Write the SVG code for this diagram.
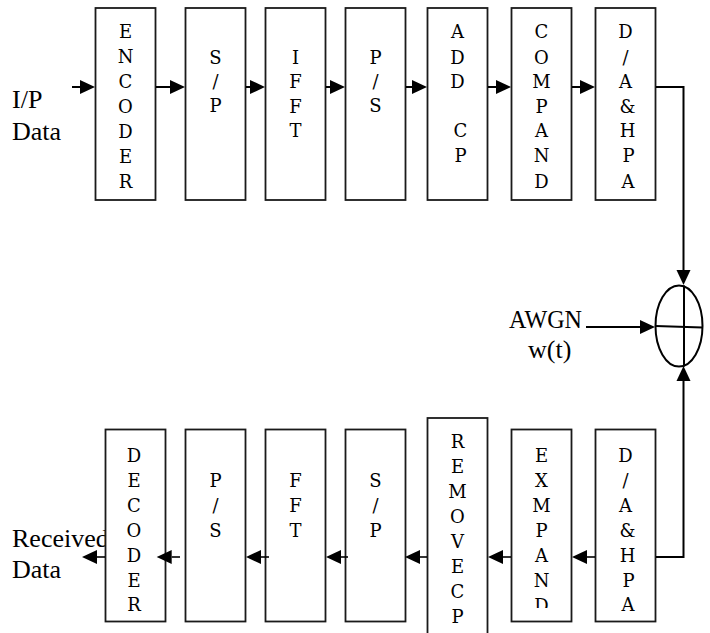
<svg xmlns="http://www.w3.org/2000/svg" width="710" height="633" viewBox="0 0 710 633">
<style>
.box{fill:#fff;stroke:#1a1a1a;stroke-width:1.8}
.t{font-family:"DejaVu Serif","Liberation Serif",serif;font-size:18px;fill:#000;text-anchor:middle}
.lbl{font-family:"Liberation Serif","Times New Roman",serif;font-size:26px;fill:#000}
.c{fill:none;stroke:#000;stroke-width:2}
.cb{fill:none;stroke:#000;stroke-width:1.6}
</style>
<defs>
<marker id="ah" markerUnits="userSpaceOnUse" markerWidth="16" markerHeight="14" refX="0" refY="7" orient="auto" overflow="visible">
<path d="M0,0 L15,7 L0,14 Z" fill="#000"/>
</marker>
<clipPath id="clipEx"><rect x="500" y="420" width="80" height="188"/></clipPath>
</defs>
<rect width="710" height="633" fill="#fff"/>
<g id="labels">
<text class="lbl" x="12" y="108">I/P</text>
<text class="lbl" x="12" y="140">Data</text>
<text class="lbl" x="509" y="328" textLength="73" lengthAdjust="spacingAndGlyphs">AWGN</text>
<text class="lbl" x="528" y="358">w(t)</text>
<text class="lbl" x="12" y="547">Received</text>
<text class="lbl" x="12" y="578">Data</text>
</g>
<g id="encoder"><rect class="box" x="95.5" y="8" width="60" height="192"/>
<text class="t"><tspan x="125.5" y="38">E</tspan><tspan x="125.5" y="63">N</tspan><tspan x="125.5" y="88">C</tspan><tspan x="125.5" y="113">O</tspan><tspan x="125.5" y="138">D</tspan><tspan x="125.5" y="163">E</tspan><tspan x="125.5" y="188">R</tspan></text></g>
<g id="sp1"><rect class="box" x="185.5" y="8" width="60" height="192"/>
<text class="t"><tspan x="215.5" y="64">S</tspan><tspan x="215.5" y="88">/</tspan><tspan x="215.5" y="112">P</tspan></text></g>
<g id="ifft"><rect class="box" x="265.5" y="8" width="60" height="192"/>
<text class="t"><tspan x="295.5" y="64">I</tspan><tspan x="295.5" y="88">F</tspan><tspan x="295.5" y="113">F</tspan><tspan x="295.5" y="137">T</tspan></text></g>
<g id="ps1"><rect class="box" x="345.5" y="8" width="60" height="192"/>
<text class="t"><tspan x="375.5" y="64">P</tspan><tspan x="375.5" y="88">/</tspan><tspan x="375.5" y="112">S</tspan></text></g>
<g id="addcp"><rect class="box" x="427.5" y="8" width="60" height="192"/>
<text class="t"><tspan x="457.5" y="38">A</tspan><tspan x="457.5" y="64">D</tspan><tspan x="457.5" y="88">D</tspan><tspan x="460.5" y="137">C</tspan><tspan x="460.5" y="162">P</tspan></text></g>
<g id="compand"><rect class="box" x="511.5" y="8" width="60" height="192"/>
<text class="t"><tspan x="541.5" y="38">C</tspan><tspan x="541.5" y="64">O</tspan><tspan x="541.5" y="88">M</tspan><tspan x="541.5" y="113">P</tspan><tspan x="541.5" y="137">A</tspan><tspan x="541.5" y="162">N</tspan><tspan x="541.5" y="188">D</tspan></text></g>
<g id="dahpa1"><rect class="box" x="595.5" y="8" width="60" height="192"/>
<text class="t"><tspan x="625.5" y="38">D</tspan><tspan x="625.5" y="64">/</tspan><tspan x="625.5" y="88">A</tspan><tspan x="627.5" y="113">&amp;</tspan><tspan x="627.5" y="137">H</tspan><tspan x="628.5" y="162">P</tspan><tspan x="628" y="188">A</tspan></text></g>
<g id="adder">
<ellipse cx="679" cy="326" rx="23.5" ry="40.5" fill="#fff" stroke="#000" stroke-width="2"/>
<line x1="684" y1="285.5" x2="684" y2="366.5" stroke="#000" stroke-width="2"/>
<line x1="655.5" y1="326" x2="702.5" y2="327.5" stroke="#000" stroke-width="2"/>
</g>
<g id="dahpa2"><rect class="box" x="595.5" y="429.5" width="60" height="192"/>
<text class="t"><tspan x="625.5" y="462">D</tspan><tspan x="625.5" y="487">/</tspan><tspan x="625.5" y="512">A</tspan><tspan x="627.5" y="537">&amp;</tspan><tspan x="627.5" y="562">H</tspan><tspan x="628.5" y="587">P</tspan><tspan x="628" y="611">A</tspan></text></g>
<g id="expand"><rect class="box" x="511.5" y="429.5" width="60" height="192"/>
<text class="t" clip-path="url(#clipEx)"><tspan x="541.5" y="462">E</tspan><tspan x="541.5" y="487">X</tspan><tspan x="541.5" y="512">M</tspan><tspan x="541.5" y="537">P</tspan><tspan x="541.5" y="562">A</tspan><tspan x="541.5" y="587">N</tspan><tspan x="541.5" y="612">D</tspan></text></g>
<g id="removecp"><rect class="box" x="427.5" y="418" width="60" height="240"/>
<text class="t"><tspan x="457.5" y="448">R</tspan><tspan x="457.5" y="473">E</tspan><tspan x="457.5" y="498">M</tspan><tspan x="457.5" y="523">O</tspan><tspan x="457.5" y="548">V</tspan><tspan x="457.5" y="573">E</tspan><tspan x="457.5" y="598">C</tspan><tspan x="457.5" y="623">P</tspan></text></g>
<g id="sp2"><rect class="box" x="345.5" y="429.5" width="60" height="192"/>
<text class="t"><tspan x="375.5" y="487">S</tspan><tspan x="375.5" y="512">/</tspan><tspan x="375.5" y="537">P</tspan></text></g>
<g id="fft"><rect class="box" x="265.5" y="429.5" width="60" height="192"/>
<text class="t"><tspan x="295.5" y="487">F</tspan><tspan x="295.5" y="512">F</tspan><tspan x="295.5" y="537">T</tspan></text></g>
<g id="ps2"><rect class="box" x="185.5" y="429.5" width="60" height="192"/>
<text class="t"><tspan x="215.5" y="487">P</tspan><tspan x="215.5" y="512">/</tspan><tspan x="215.5" y="537">S</tspan></text></g>
<g id="decoder"><rect class="box" x="105.5" y="429.5" width="60" height="192"/>
<text class="t"><tspan x="134" y="462">D</tspan><tspan x="134" y="487">E</tspan><tspan x="134" y="512">C</tspan><tspan x="134" y="537">O</tspan><tspan x="134" y="562">D</tspan><tspan x="134" y="587">E</tspan><tspan x="134" y="611">R</tspan></text></g>
<g id="connectors">
<path class="c" d="M72,87 H80" marker-end="url(#ah)"/>
<path class="c" d="M156,87 H170" marker-end="url(#ah)"/>
<path class="c" d="M246,87 H250" marker-end="url(#ah)"/>
<path class="c" d="M326,87 H330" marker-end="url(#ah)"/>
<path class="c" d="M406,87 H412" marker-end="url(#ah)"/>
<path class="c" d="M488,87 H496" marker-end="url(#ah)"/>
<path class="c" d="M572,87 H580" marker-end="url(#ah)"/>
<path class="c" d="M656,87 H683.5 V270" marker-end="url(#ah)"/>
<path class="c" d="M586,327 H640" marker-end="url(#ah)"/>
<path class="c" d="M656,557 H683.5 V381" marker-end="url(#ah)"/>
<path class="cb" d="M595,557 H587" marker-end="url(#ah)"/>
<path class="cb" d="M511,557 H503" marker-end="url(#ah)"/>
<path class="cb" d="M427,557 H420" marker-end="url(#ah)"/>
<path class="cb" d="M348,557 H341" marker-end="url(#ah)"/>
<path class="cb" d="M269,557 H261" marker-end="url(#ah)"/>
<path class="cb" d="M180,557 H171.7" marker-end="url(#ah)"/>
<path class="cb" d="M105,557 H97" marker-end="url(#ah)"/>
</g>
</svg>
